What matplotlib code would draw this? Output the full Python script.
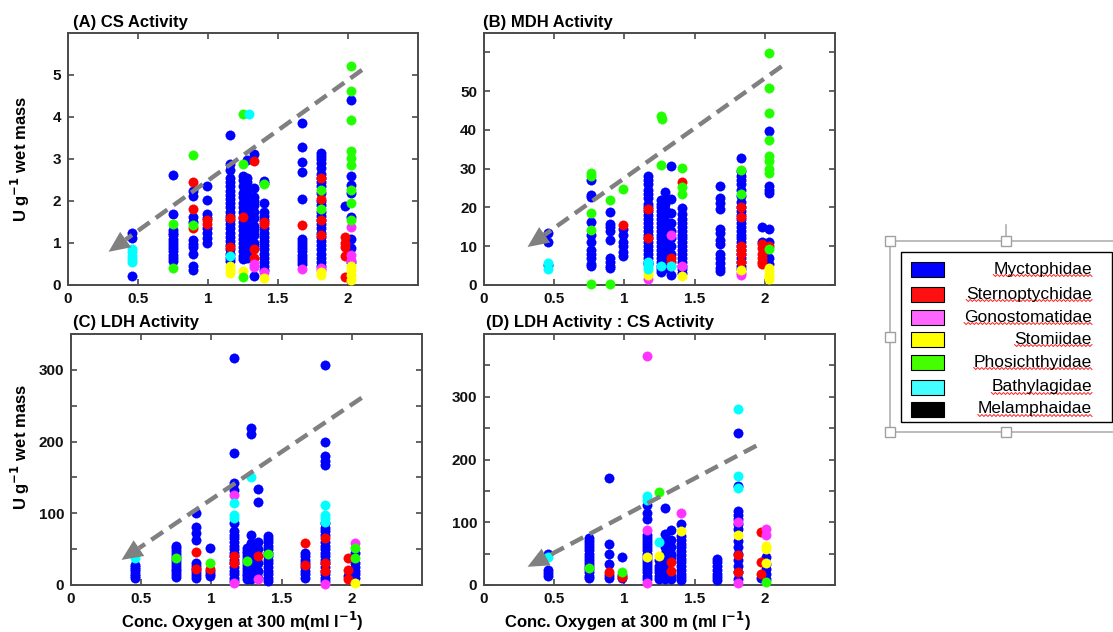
import matplotlib
matplotlib.use("Agg")
import matplotlib.pyplot as plt
from matplotlib.patches import Rectangle, Polygon
from matplotlib.lines import Line2D
import numpy as np

plt.rcParams['font.family'] = ['Liberation Sans', 'DejaVu Sans']

# ---------------- data ----------------
families = ['Myctophidae', 'Sternoptychidae', 'Gonostomatidae', 'Stomiidae',
            'Phosichthyidae', 'Bathylagidae', 'Melamphaidae']

# (A) CS activity : {oxygen (ml/l): [values]}
A_myct = {0.455: [1.25, 1.12, 0.22],
          0.75: [2.62, 1.7, 1.32, 1.25, 1.18, 1.1, 1.02, 0.95, 0.88, 0.8, 0.72, 0.65, 0.58],
          0.89: [2.25, 2.12, 1.62, 1.5, 1.07, 0.98, 0.9, 0.75, 0.45, 0.35],
          0.99: [2.35, 2.02, 1.7, 1.6, 1.35, 1.25, 1.12, 1.0],
          1.16: [3.57, 2.88, 2.75, 2.55, 2.45, 2.35, 2.25, 2.15, 2.05, 1.95, 1.85, 1.75, 1.65,
                 1.55, 1.45, 1.35, 1.25, 1.15, 1.05, 0.95, 0.85, 0.75, 0.65, 0.58],
          1.25: [2.6, 2.5, 2.35, 2.2, 2.1, 1.95, 1.85, 1.75, 1.6, 1.5, 1.4, 1.3, 1.2, 1.1,
                 1.0, 0.9, 0.8, 0.7, 0.62],
          1.28: [2.98, 2.55, 2.45, 2.3, 2.2, 2.1, 2.0, 1.9, 1.8, 1.7, 1.55, 1.4, 1.25, 1.15,
                 1.05, 0.95, 0.85, 0.75, 0.65],
          1.33: [3.12, 2.3, 2.1, 2.0, 1.9, 1.75, 1.6, 1.4, 1.3, 1.2, 1.0, 0.9, 0.22],
          1.40: [2.47, 2.42, 1.95, 1.75, 1.65, 1.55, 1.35, 1.25, 1.15, 1.05, 0.95, 0.85, 0.75,
                 0.65, 0.55, 0.45, 0.35],
          1.67: [3.85, 3.28, 2.92, 2.68, 2.05, 1.1, 1.02, 0.95, 0.88, 0.8, 0.72, 0.65, 0.58, 0.5],
          1.81: [3.15, 3.08, 3.0, 2.9, 2.78, 2.65, 2.55, 2.45, 2.35, 2.2, 2.0, 1.9, 1.75, 1.65,
                 1.55, 1.45, 1.35, 1.25, 1.15, 1.05, 0.95, 0.85, 0.75, 0.65, 0.55, 0.45],
          1.98: [1.87],
          2.02: [4.4, 2.6, 2.38, 2.18, 1.62, 1.1, 0.88, 0.55]}
A_stern = {0.89: [2.45, 1.8, 1.35], 0.99: [1.55, 1.45], 1.16: [1.6, 0.9], 1.25: [1.62],
           1.33: [2.95, 0.85, 0.65], 1.40: [1.5, 1.45], 1.67: [1.42],
           1.81: [2.55, 2.05, 1.55, 1.2], 1.98: [1.15, 1.0, 0.9, 0.7, 0.2]}
A_gono = {1.33: [0.5, 0.42], 1.40: [0.3], 1.67: [0.38], 1.81: [0.4, 0.35], 2.02: [1.38, 0.72, 0.6]}
A_stom = {1.16: [0.45, 0.35, 0.28], 1.25: [0.33], 1.40: [0.17], 1.81: [0.3, 0.25],
          2.02: [0.45, 0.35, 0.25, 0.12]}
A_phos = {0.75: [1.45, 0.4], 0.89: [3.1, 1.42], 1.25: [4.08, 2.87, 0.2], 1.40: [2.4],
          1.81: [2.27, 1.8], 2.02: [5.22, 4.63, 3.93, 3.2, 3.02, 2.85, 2.27, 1.96, 1.55]}
A_bath = {0.455: [0.55, 0.62, 0.7, 0.78, 0.86], 1.29: [4.08], 1.16: [0.7]}
A_mela = {}

# (B) MDH activity
B_myct = {0.455: [13.5, 11.0, 5.2],
          0.76: [27.0, 23.3, 22.8, 16.2, 13.0, 11.0, 9.0, 8.0, 7.0, 5.5, 4.8],
          0.90: [18.8, 15.8, 15.0, 14.0, 11.5, 7.0, 6.0, 5.0, 4.3],
          0.99: [14.5, 13.0, 11.0, 10.0, 8.5, 7.5],
          1.17: [28, 27, 26, 24.5, 23.5, 22.5, 21, 20, 19, 18, 17, 16, 15, 14, 13, 12, 11, 10,
                 9, 8, 7, 6, 5.5],
          1.26: [22, 21, 20, 19, 18, 17, 16, 15, 14, 13, 12, 11, 10, 9, 8, 7, 6, 5, 4, 3.3],
          1.29: [24, 22, 21, 19.5, 18, 16.5, 15, 13.5, 12, 10.5, 9, 7.5, 6, 4.5],
          1.33: [30.7, 22.2, 18.5, 16, 14, 12, 10, 8, 2.5],
          1.41: [19.8, 18.2, 17, 16, 15, 14, 13, 12, 11, 10, 9, 8, 7, 6, 5, 4, 3],
          1.68: [25.5, 22.4, 21.2, 19.6, 14.4, 13.4, 11.5, 10.5, 8.0, 7.0, 5.8, 4.5, 3.5],
          1.83: [32.8, 29.4, 28, 27, 26, 24.5, 23, 21.5, 20, 19, 18, 17, 16, 15, 14, 13, 12,
                 11, 10, 9, 8, 7, 6, 5, 4],
          1.98: [15.0, 11.0],
          2.03: [39.7, 25.6, 24.6, 23.8, 14.5, 11.0, 7.0, 5.5]}
B_stern = {0.99: [15.5], 1.17: [19.5, 12.0], 1.33: [7.0, 6.0], 1.41: [26.5],
           1.83: [20.0, 17.5, 10.0, 9.0, 8.0, 6.0], 1.98: [10.5, 9.5, 8.0, 7.0, 6.0, 5.3],
           2.03: [10.0]}
B_gono = {1.17: [1.5], 1.33: [13.0, 5.0], 1.41: [5.0], 1.83: [3.0, 2.5]}
B_stom = {1.17: [3.5, 2.7], 1.41: [2.2], 1.83: [3.8], 2.03: [4.5, 3.5, 2.7, 2.0, 1.5]}
B_phos = {0.76: [28.8, 28.0, 18.6, 14.2, 0.2], 0.90: [21.8, 0.2], 0.99: [24.8],
          1.26: [43.6, 31.0], 1.27: [42.8], 1.41: [30.3, 25.2, 23.5], 1.83: [29.7, 23.5],
          2.03: [59.8, 50.7, 44.4, 37.4, 33.2, 32.0, 30.0, 29.0, 9.2]}
B_bath = {0.455: [5.6, 4.0], 1.17: [6.0, 5.0, 4.0], 1.26: [5.0], 1.33: [4.8]}
B_mela = {}

# (C) LDH activity
C_myct = {0.455: [28, 25, 22, 19, 16, 13, 10],
          0.75: [55, 51, 47, 43, 39, 35, 31, 27, 23, 19, 15, 11],
          0.89: [100, 81, 72, 63, 30, 26, 22, 18, 14, 10],
          0.99: [52, 20, 16, 12],
          1.16: [316, 184, 142, 133, 86, 75, 70, 65, 60, 55, 50, 45, 40, 35, 30, 25, 20, 15, 10, 6],
          1.25: [52, 48, 44, 40, 36, 32, 28, 24, 20, 16, 12, 8],
          1.285: [219, 210, 70, 58, 49, 44, 39, 34, 29, 24, 19, 14, 9],
          1.33: [134, 116, 60, 50, 30, 20, 10],
          1.40: [68, 64, 60, 55, 50, 45, 40, 35, 30, 25, 20, 15, 10, 5],
          1.67: [45, 40, 35, 30, 25, 20, 15, 10],
          1.81: [307, 199, 180, 173, 168, 86, 80, 75, 70, 60, 55, 50, 45, 40, 35, 30, 25, 20, 15, 10, 5],
          1.97: [12],
          2.02: [44, 30, 25, 20, 15, 10]}
C_stern = {0.89: [46, 22], 0.99: [23], 1.16: [30, 40], 1.33: [41], 1.67: [59, 28],
           1.81: [65, 30, 20], 1.97: [37, 21, 8]}
C_gono = {1.16: [126, 3], 1.33: [8], 1.81: [2], 2.02: [58]}
C_stom = {2.02: [3]}
C_phos = {0.75: [38], 0.99: [31], 1.25: [33], 1.40: [43], 2.02: [51, 37]}
C_bath = {0.455: [37], 1.16: [115, 97, 93], 1.285: [151], 1.81: [111, 97, 93, 88]}
C_mela = {}

# (D) LDH : CS
D_myct = {0.455: [50, 24, 19, 14],
          0.75: [75, 70, 65, 60, 55, 50, 45, 40, 35, 30, 25, 20, 15, 11],
          0.89: [171, 66, 49, 33, 16, 11],
          0.98: [44, 16, 11],
          1.16: [128, 115, 105, 80, 75, 70, 65, 60, 55, 50, 45, 40, 35, 30, 25, 20, 15, 10],
          1.245: [40, 30, 25, 20, 15, 10],
          1.29: [123, 82, 70, 60, 50, 40, 30, 20, 10],
          1.33: [87, 72, 60, 50, 45, 15, 10],
          1.40: [97, 78, 72, 66, 60, 54, 48, 42, 36, 30, 24, 18, 12, 8],
          1.66: [42, 36, 30, 24, 18, 12, 8],
          1.81: [242, 158, 118, 112, 105, 98, 90, 70, 60, 50, 40, 30, 20, 10],
          1.97: [11],
          2.01: [44, 33, 25, 17, 10]}
D_stern = {0.89: [21], 0.98: [13], 1.33: [36, 23], 1.81: [48, 20], 1.97: [85, 37, 18]}
D_gono = {1.16: [365, 87, 3], 1.40: [114], 1.81: [100, 3], 2.01: [90, 79]}
D_stom = {1.16: [45], 1.245: [46], 1.40: [86], 1.81: [79], 2.01: [62, 57, 35]}
D_phos = {0.75: [27], 0.98: [21], 1.245: [149], 2.01: [4]}
D_bath = {0.455: [45], 1.16: [142, 136], 1.245: [68], 1.81: [280, 174, 155]}
D_mela = {}

titles = ['(A) CS Activity', '(B) MDH Activity', '(C) LDH Activity', '(D) LDH Activity : CS Activity']
x_ticks = [0, 0.5, 1, 1.5, 2]
x_ticklabels = ['0', '0.5', '1', '1.5', '2']
y_ticks = [[0, 1, 2, 3, 4, 5], [0, 10, 20, 30, 40, 50, 60], list(range(0, 351, 50)), list(range(0, 351, 50))]
y_ticklabels = [['0', '1', '2', '3', '4', '5'], ['0', '10', '20', '30', '40', '50', ''],
                ['0', '', '100', '', '200', '', '300', ''], ['0', '', '100', '', '200', '', '300', '']]
y_lims = [(0, 6), (0, 65), (0, 350), (0, 400)]
# trend arrows (start, tip) in data units
arrows = [((2.1, 5.12), (0.29, 0.79)), ((2.12, 56.4), (0.31, 9.8)),
          ((2.07, 261), (0.36, 35)), ((1.94, 222), (0.31, 29))]

panel_data = [[A_myct, A_stern, A_gono, A_stom, A_phos, A_bath, A_mela],
              [B_myct, B_stern, B_gono, B_stom, B_phos, B_bath, B_mela],
              [C_myct, C_stern, C_gono, C_stom, C_phos, C_bath, C_mela],
              [D_myct, D_stern, D_gono, D_stom, D_phos, D_bath, D_mela]]

# ---------------- style ----------------
point_colors = ['#0000ff', '#ff0000', '#ff33ff', '#ffff00', '#22ff00', '#00ffff', '#000000']
legend_colors = ['#0000ff', '#ff1010', '#ff66ff', '#ffff00', '#44ff00', '#44ffff', '#000000']
W, H = 1113, 632
fig = plt.figure(figsize=(W / 100, H / 100), dpi=100)

def fx(px):
    return px / W

def fy(py):
    return 1 - py / H

axes_px = [(68, 33, 418, 285), (484, 33, 835, 285), (71, 334, 422, 585), (484, 334, 835, 585)]
title_px = [(73, 22), (483, 22), (73, 322), (486, 322)]
spine_c = '#4a4a4a'
arrow_c = '#808080'
head_len, head_half = 21.0, 9.5   # pixels

for i, (l, t, r, b) in enumerate(axes_px):
    ax = fig.add_axes([fx(l), fy(b), fx(r - l), (b - t) / H])
    for fam, c, d in zip(families, point_colors, panel_data[i]):
        xs, ys = [], []
        for xv, vals in d.items():
            xs += [xv] * len(vals)
            ys += vals
        if xs:
            ax.plot(xs, ys, ls='none', marker=(8, 2, 0), ms=6.8, mew=2.0, color=c,
                    clip_on=False, zorder=3)
            ax.plot(xs, ys, ls='none', marker='o', ms=4.6, mew=0, color=c,
                    clip_on=False, zorder=3)
    ax.set_xlim(0, 2.5)
    ax.set_ylim(*y_lims[i])
    ax.set_xticks(x_ticks)
    ax.set_xticklabels(x_ticklabels)
    ax.set_yticks(y_ticks[i])
    ax.set_yticklabels(y_ticklabels[i])
    ax.tick_params(direction='in', top=True, right=True, length=4, width=1.2, color=spine_c,
                   labelsize=11, pad=5)
    for lab in ax.get_xticklabels() + ax.get_yticklabels():
        lab.set_fontweight('bold')
        lab.set_color('#111111')
    for s in ax.spines.values():
        s.set_color(spine_c)
        s.set_linewidth(1.4)

    # dashed trend arrow: dashed shaft + solid triangular head (built in pixel space)
    (sx, sy), (tx, ty) = arrows[i]
    p0 = ax.transData.transform((sx, sy))
    p1 = ax.transData.transform((tx, ty))
    u = (p0 - p1) / np.hypot(*(p0 - p1))
    nrm = np.array([-u[1], u[0]])
    base = p1 + u * head_len
    inv = ax.transData.inverted()
    bx, by = inv.transform(base)
    ax.plot([sx, bx], [sy, by], color=arrow_c, lw=3.2, ls=(0, (3.2, 1.7)),
            solid_capstyle='butt', dash_capstyle='butt', zorder=5, clip_on=False)
    tri = inv.transform(np.array([p1, base + nrm * head_half, base - nrm * head_half]))
    ax.add_patch(Polygon(tri, closed=True, facecolor=arrow_c, edgecolor='none', zorder=5,
                         clip_on=False))

    tpx, tpy = title_px[i]
    fig.text(fx(tpx), fy(tpy), titles[i], ha='left', va='center', fontsize=12, fontweight='bold')

# axis labels
ylab = 'U g$^{\\mathbf{-1}}$ wet mass'
fig.text(fx(20), fy(159), ylab, rotation=90, ha='center', va='center', fontsize=12, fontweight='bold')
fig.text(fx(20), fy(447), ylab, rotation=90, ha='center', va='center', fontsize=12, fontweight='bold')
fig.text(fx(242), fy(621), 'Conc. Oxygen at 300 m(ml l$^{\\mathbf{-1}}$)', ha='center', va='center',
         fontsize=12, fontweight='bold')
fig.text(fx(628), fy(621), 'Conc. Oxygen at 300 m (ml l$^{\\mathbf{-1}}$)', ha='center', va='center',
         fontsize=12, fontweight='bold')

# selection frame (slide object handles)
frame_c = '#b0b0b0'
fig.add_artist(Line2D([fx(890), fx(1113)], [fy(241), fy(241)], color=frame_c, lw=1.2))
fig.add_artist(Line2D([fx(890), fx(1113)], [fy(432), fy(432)], color=frame_c, lw=1.2))
fig.add_artist(Line2D([fx(890), fx(890)], [fy(241), fy(432)], color=frame_c, lw=1.2))
fig.add_artist(Line2D([fx(1006), fx(1006)], [fy(225), fy(241)], color=frame_c, lw=1.2))
for hx, hy in [(890, 241), (1006, 241), (890, 337), (890, 432), (1006, 432)]:
    fig.add_artist(Rectangle((fx(hx - 5), fy(hy + 5)), 10 / W, 10 / H, facecolor='white',
                             edgecolor='#a0a0a0', lw=1.0, zorder=6))

# legend box
fig.add_artist(Rectangle((fx(901), fy(422)), 211 / W, 170 / H, facecolor='white',
                         edgecolor='black', lw=1.0, zorder=7))
row_y = [269, 294, 317, 339, 362, 387, 409]
texts = []
for fam, c, ry in zip(families, legend_colors, row_y):
    fig.add_artist(Rectangle((fx(911), fy(ry + 7.5)), 33 / W, 15 / H, facecolor=c,
                             edgecolor='black', lw=0.8, zorder=8))
    texts.append(fig.text(fx(1092), fy(ry), fam, ha='right', va='center', fontsize=12.5,
                          zorder=9))

fig.canvas.draw()
rend = fig.canvas.get_renderer()
for tt in texts:
    bb = tt.get_window_extent(rend)
    x0, x1 = bb.x0, bb.x1
    ybase = bb.y0 + 1
    n = int((x1 - x0) / 2)
    zx = np.linspace(x0, x1, n + 1)
    zy = ybase + np.where(np.arange(n + 1) % 2 == 0, 1.0, -1.0)
    fig.add_artist(Line2D(zx / W, zy / H, color='#ff2020', lw=0.7, zorder=9))

fig.savefig('out.png', dpi=100)
